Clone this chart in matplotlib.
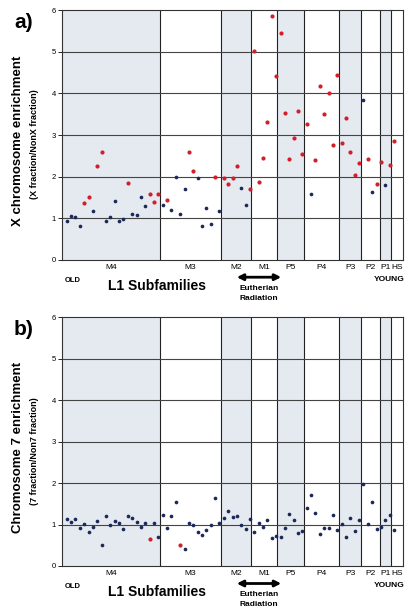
import matplotlib
matplotlib.use("Agg")
import matplotlib.pyplot as plt
import numpy as np

plt.rcParams['font.family'] = ['Liberation Sans', 'DejaVu Sans']

W, H = 414, 616

subfamilies = ["M4", "M3", "M2", "M1", "P5", "P4", "P3", "P2", "P1", "HS"]
shaded = [True, False, True, False, True, False, True, False, True, False]
# region edges in point-index units
edges = [-1.08, 21.45, 35.3, 42.3, 48.3, 54.4, 62.3, 67.55, 71.9, 74.4, 77.06]

# a) X chromosome enrichment, one value per L1 element (old -> young)
x_enrich = [0.92, 1.05, 1.02, 0.82, 1.36, 1.51, 1.18, 2.26, 2.59, 0.94,
            1.03, 1.42, 0.92, 0.97, 1.85, 1.11, 1.07, 1.50, 1.28, 1.58,
            1.40, 1.57, 1.32, 1.44, 1.20, 1.98, 1.11, 1.71, 2.58, 2.14,
            1.97, 0.81, 1.24, 0.86, 1.99, 1.18, 1.96, 1.81, 1.96, 2.26,
            1.73, 1.31, 1.70, 5.03, 1.88, 2.45, 3.32, 5.87, 4.42, 5.46,
            3.54, 2.43, 2.92, 3.58, 2.54, 3.26, 1.57, 2.40, 4.18, 3.50,
            4.01, 2.76, 4.45, 2.81, 3.40, 2.59, 2.04, 2.33, 3.83, 2.42,
            1.62, 1.82, 2.36, 1.79, 2.29, 2.85]
x_flag = ("BBBBRRBRRB" "BBBBRBBBBR" "RRBRBBBBRR" "BBBBRBRRRR"
          "BBRRRRRRRR" "RRRRRRBRRR" "RRRRRRRRBR" "BRRBRR")

# b) chromosome 7 enrichment
c7_enrich = [1.13, 1.05, 1.13, 0.92, 1.02, 0.83, 0.93, 1.08, 0.50, 1.21,
             1.00, 1.08, 1.04, 0.90, 1.21, 1.17, 1.06, 0.95, 1.04, 0.66,
             1.04, 0.71, 1.22, 0.92, 1.20, 1.55, 0.50, 0.42, 1.03, 0.98,
             0.83, 0.75, 0.87, 1.00, 1.63, 1.03, 1.16, 1.33, 1.18, 1.20,
             0.99, 0.90, 1.14, 0.83, 1.03, 0.94, 1.10, 0.67, 0.72, 0.71,
             0.92, 1.26, 1.11, 0.79, 0.85, 1.41, 1.72, 1.27, 0.76, 0.92,
             0.92, 1.22, 0.87, 1.02, 0.69, 1.15, 0.84, 1.10, 1.99, 1.01,
             1.55, 0.89, 0.95, 1.10, 1.24, 0.88]
c7_flag = ("BBBBBBBBBB" "BBBBBBBBBR" "BBBBBBRBBB" + "B" * 46)

RED = "#d0202c"
BLUE = "#1b2858"
SHADE = "#e4eaf0"


def fx(x):
    return x / W


def fy(y):
    return 1 - y / H


def panel(ax, values, flags, letter, ylab1, ylab2, top_px, bot_px):
    idx = np.arange(len(values))
    for i in range(len(subfamilies)):
        if shaded[i]:
            ax.axvspan(edges[i], edges[i + 1], color=SHADE, zorder=0, lw=0)
    for e in edges[1:-1]:
        ax.axvline(e, color="#222222", lw=0.8, zorder=1)
    for v in range(1, 6):
        ax.axhline(v, color="#444444", lw=0.8, zorder=1)
    vals = np.array(values)
    red = np.array([f == "R" for f in flags])
    ax.scatter(idx[~red], vals[~red], s=7, color=BLUE, zorder=3, lw=0)
    ax.scatter(idx[red], vals[red], s=9, color=RED, zorder=3, lw=0)
    ax.set_xlim(edges[0], edges[-1])
    ax.set_ylim(0, 6)
    ax.set_yticks(range(7))
    ax.tick_params(axis="y", labelsize=5.5, length=3, width=0.6, pad=1.5)
    centers = [(edges[i] + edges[i + 1]) / 2 for i in range(len(subfamilies))]
    ax.set_xticks(centers)
    ax.set_xticklabels(subfamilies, fontsize=6)
    ax.tick_params(axis="x", length=0, pad=3)
    for s in ax.spines.values():
        s.set_color("#333333")
        s.set_linewidth(0.8)

    base = bot_px
    fig.text(fx(24), fy(top_px + 12), letter, fontsize=15, fontweight="bold",
             ha="center", va="center")
    mid = (top_px + bot_px) / 2 + 6
    fig.text(fx(18), fy(mid), ylab1, rotation=90, fontsize=9.5,
             fontweight="bold", ha="center", va="center")
    fig.text(fx(35), fy(mid + 3), ylab2, rotation=90, fontsize=6.5,
             fontweight="bold", ha="center", va="center")
    fig.text(fx(73), fy(base + 20.5), "OLD", fontsize=5.5, fontweight="bold",
             ha="center", va="center")
    fig.text(fx(405), fy(base + 19.5), "YOUNG", fontsize=6, fontweight="bold",
             ha="right", va="center")
    fig.text(fx(157), fy(base + 26), "L1 Subfamilies", fontsize=10,
             fontweight="bold", ha="center", va="center")
    fig.patches.append(matplotlib.patches.FancyArrowPatch(
        (fx(234), fy(base + 17.5)), (fx(284), fy(base + 17.5)),
        transform=fig.transFigure, arrowstyle="<|-|>", mutation_scale=9,
        lw=2, color="black"))
    fig.text(fx(259), fy(base + 29), "Eutherian", fontsize=6,
             fontweight="bold", ha="center", va="center")
    fig.text(fx(259), fy(base + 38.5), "Radiation", fontsize=6,
             fontweight="bold", ha="center", va="center")


fig = plt.figure(figsize=(W / 100, H / 100), dpi=100)
fig.patch.set_facecolor("white")

ax_a = fig.add_axes([fx(62), fy(259.7), fx(403) - fx(62), (259.7 - 10.3) / H])
ax_b = fig.add_axes([fx(62), fy(566), fx(403) - fx(62), (566 - 317.3) / H])

panel(ax_a, x_enrich, x_flag, "a)", "X chromosome enrichment",
      "(X fraction/NonX fraction)", 10.3, 259.7)
panel(ax_b, c7_enrich, c7_flag, "b)", "Chromosome 7 enrichment",
      "(7 fraction/Non7 fraction)", 317.3, 566)

fig.savefig("out.png", dpi=100)
